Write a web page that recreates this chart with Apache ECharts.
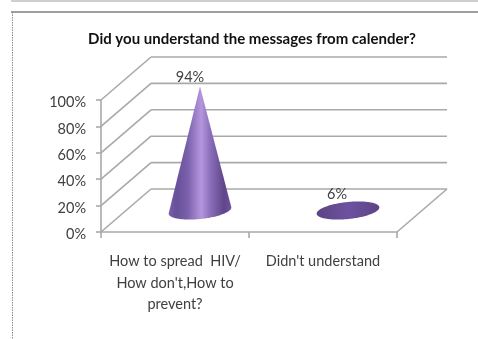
<!DOCTYPE html>
<html>
<head>
<meta charset="utf-8">
<style>
html,body{margin:0;padding:0;background:#fff}
#chart{width:478px;height:339px}
</style>
<script src="https://cdn.jsdelivr.net/npm/echarts@6/dist/echarts.min.js"></script>
</head>
<body>
<div id="chart"></div>
<script>
// Survey answers, in percent
var categories = ["How to spread  HIV/\nHow don't,How to\nprevent?", "Didn't understand"];
var percentages = [94, 6];
var axisTicks = [0, 20, 40, 60, 80, 100];
var titleText = 'Did you understand the messages from calender?';

// Oblique projection of the 3D box: how far the back wall sits from the front plane
var DEPTH_X = 50;
var DEPTH_Y = -43;
var GRID_GREY = '#a9a9a9';
var FONT = 'Lato, "Open Sans", sans-serif';

var chart = echarts.init(document.getElementById('chart'), null, {renderer: 'canvas'});

// Back wall rule and its slanted side rule for one axis value
function renderWall(params, api) {
  var c = params.coordSys;
  var y = api.coord([0, api.value(0)])[1];
  var style = {stroke: GRID_GREY, lineWidth: 1.6, fill: null};
  var back = c.x + c.width + DEPTH_X;
  var children = [
    {type: 'line', shape: {x1: c.x, y1: y, x2: c.x + DEPTH_X, y2: y + DEPTH_Y}, style: style},
    {type: 'line', shape: {x1: c.x + DEPTH_X, y1: y + DEPTH_Y, x2: back, y2: y + DEPTH_Y}, style: style}
  ];
  if (api.value(0) === 0) {
    // floor edge on the right
    children.push({type: 'line', shape: {x1: c.x + c.width, y1: y, x2: back, y2: y + DEPTH_Y}, style: style});
  }
  return {type: 'group', children: children};
}

// Outline of a cone standing on a tilted ellipse, as the hull of rim and apex
function coneOutline(cx, cy, rx, ry, tilt, ax, ay) {
  var rim = [], i, t;
  for (i = 0; i < 180; i++) {
    t = i / 180 * Math.PI * 2;
    var ex = rx * Math.cos(t), ey = ry * Math.sin(t);
    rim.push([cx + ex * Math.cos(tilt) - ey * Math.sin(tilt),
              cy + ex * Math.sin(tilt) + ey * Math.cos(tilt)]);
  }
  // apex inside the rim: only the ellipse shows
  var dx = ax - cx, dy = ay - cy;
  var ux = dx * Math.cos(tilt) + dy * Math.sin(tilt);
  var uy = -dx * Math.sin(tilt) + dy * Math.cos(tilt);
  if (ux * ux / (rx * rx) + uy * uy / (ry * ry) <= 1) return rim;
  var visible = [], n = rim.length, side = [];
  for (i = 0; i < n; i++) {
    var p = rim[i], q = rim[(i + 1) % n];
    side.push((q[0] - p[0]) * (ay - p[1]) - (q[1] - p[1]) * (ax - p[0]) > 0);
  }
  var start = 0;
  for (i = 0; i < n; i++) {
    if (side[i] && !side[(i + n - 1) % n]) start = i;
  }
  for (i = 0; i < n; i++) {
    var k = (start + i) % n;
    if (!side[k]) break;
    visible.push(rim[k]);
  }
  visible.push(rim[(start + visible.length) % n]);
  visible.push([ax, ay]);
  return visible;
}

function renderCone(params, api) {
  var value = api.value(1);
  var base = api.coord([api.value(0), 0]);
  var tip = api.coord([api.value(0), value]);
  var cx = base[0] + DEPTH_X / 2;
  var cy = base[1] + DEPTH_Y / 2;
  var ax = tip[0] + DEPTH_X / 2;
  var ay = tip[1] + DEPTH_Y / 2;
  var rx = 31.5, ry = 8.5, tilt = -6 * Math.PI / 180;
  var tall = value > 50;
  var fill = new echarts.graphic.LinearGradient(0, 0, 1, 0, tall ? [
    {offset: 0, color: '#7a5fae'},
    {offset: 0.12, color: '#68509a'},
    {offset: 0.3, color: '#7a5fab'},
    {offset: 0.52, color: '#b496dd'},
    {offset: 0.66, color: '#8c6fbb'},
    {offset: 0.88, color: '#5f4689'},
    {offset: 1, color: '#6e53a0'}
  ] : [
    {offset: 0, color: '#5c4484'},
    {offset: 0.5, color: '#6d51a0'},
    {offset: 1, color: '#5c4484'}
  ]);
  return {
    type: 'group',
    children: [
      {type: 'polygon', shape: {points: coneOutline(cx, cy, rx, ry, tilt, ax, ay)}, style: {fill: fill}},
      {type: 'text', x: tall ? ax - 10 : ax - 11, y: ay - (tall ? 9.5 : 8),
        style: {text: value + '%', fill: '#404040', font: '14.5px ' + FONT, align: 'center', verticalAlign: 'middle'}}
    ]
  };
}

chart.setOption({
  animation: false,
  backgroundColor: '#ffffff',
  title: {
    text: titleText, left: 247, top: 27, textAlign: 'center',
    textStyle: {fontFamily: FONT, fontSize: 15, fontWeight: 'bold', color: '#111111'}
  },
  grid: {left: 101, top: 100, width: 296, height: 132, outerBoundsMode: 'none'},
  xAxis: {
    type: 'category', data: categories,
    axisLine: {lineStyle: {color: GRID_GREY, width: 1.6}},
    axisTick: {show: true, alignWithLabel: false, length: 6, lineStyle: {color: GRID_GREY, width: 1.6}},
    axisLabel: {interval: 0, margin: 19, fontFamily: FONT, fontSize: 14.5, lineHeight: 21.5, color: '#404040', align: 'center'}
  },
  yAxis: {
    type: 'value', min: 0, max: 100, interval: 20,
    axisLine: {show: true, lineStyle: {color: GRID_GREY, width: 1.6}},
    axisTick: {show: true, length: 5, lineStyle: {color: GRID_GREY, width: 1.6}},
    splitLine: {show: false},
    axisLabel: {
      margin: 15,
      formatter: '{tick|{value}%}',
      rich: {tick: {padding: [5, 0, 0, 0], fontFamily: FONT, fontSize: 14.5, color: '#404040'}}
    }
  },
  graphic: [
    // page band and chart frame surrounding the plot
    {type: 'rect', silent: true, shape: {x: 11, y: 0, width: 467, height: 2}, style: {fill: '#cfcfcf'}},
    {type: 'line', silent: true, shape: {x1: 11, y1: 12, x2: 478, y2: 12}, style: {stroke: '#7f7f7f', lineWidth: 1.4}},
    {type: 'line', silent: true, shape: {x1: 12.5, y1: 12, x2: 12.5, y2: 339}, style: {stroke: '#8c8c8c', lineWidth: 1, lineDash: [1.5, 1]}}
  ],
  series: [
    {type: 'custom', z: 1, renderItem: renderWall, encode: {y: 0}, data: axisTicks.map(function (v) { return [v]; }), silent: true},
    {type: 'custom', z: 3, renderItem: renderCone, encode: {x: 0, y: 1},
      data: percentages.map(function (v, i) { return [i, v]; }), silent: true}
  ]
});
</script>
</body>
</html>
